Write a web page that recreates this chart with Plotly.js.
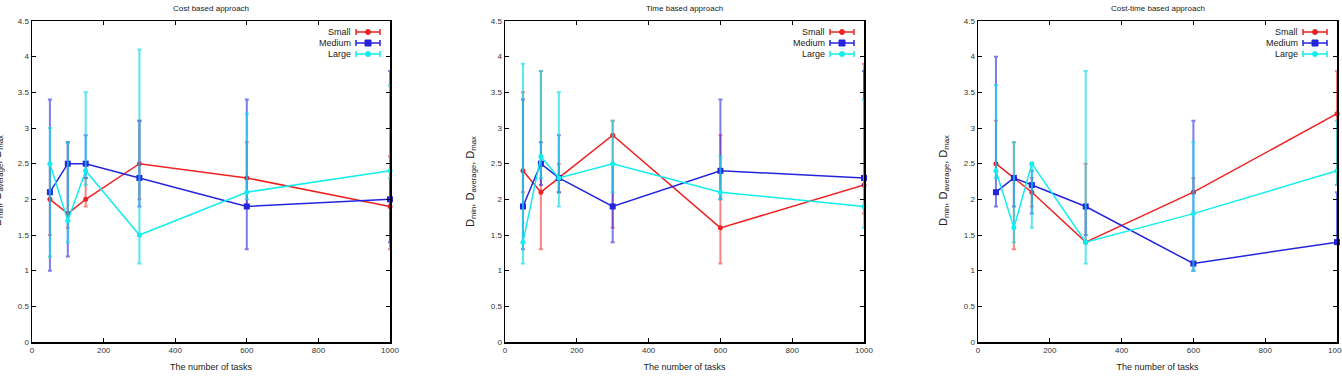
<!DOCTYPE html>
<html><head><meta charset="utf-8">
<script src="https://cdn.plot.ly/plotly-3.0.1.min.js"></script>
<style>html,body{margin:0;padding:0;background:#fff;}#chart{width:1342px;height:380px;}</style>
</head><body><div id="chart"></div>
<script>
const tasks = [50, 100, 150, 300, 600, 1000];
const seriesNames = ["Small", "Medium", "Large"];
const panelTitles = ["Cost based approach", "Time based approach", "Cost-time based approach"];
const yTitle = "D<sub>min</sub>, D<sub>average</sub>, D<sub>max</sub>";
const xTitle = "The number of tasks";

// Cost based approach
const costSmall = [2.0, 1.8, 2.0, 2.5, 2.3, 1.9];
const costSmallMin = [1.5, 1.6, 1.9, 2.0, 1.9, 1.3];
const costSmallMax = [2.5, 2.8, 2.3, 3.1, 2.8, 2.6];
const costMedium = [2.1, 2.5, 2.5, 2.3, 1.9, 2.0];
const costMediumMin = [1.0, 1.2, 2.3, 1.9, 1.3, 1.4];
const costMediumMax = [3.4, 2.8, 2.9, 3.1, 3.4, 3.8];
const costLarge = [2.5, 1.7, 2.4, 1.5, 2.1, 2.4];
const costLargeMin = [1.2, 1.4, 2.2, 1.1, 2.0, 2.3];
const costLargeMax = [3.0, 2.8, 3.5, 4.1, 3.2, 3.6];

// Time based approach
const timeSmall = [2.4, 2.1, 2.3, 2.9, 1.6, 2.2];
const timeSmallMin = [2.1, 1.3, 2.1, 1.6, 1.1, 1.8];
const timeSmallMax = [3.5, 3.8, 2.5, 3.1, 2.9, 3.9];
const timeMedium = [1.9, 2.5, 2.3, 1.9, 2.4, 2.3];
const timeMediumMin = [1.3, 2.2, 2.1, 1.4, 2.0, 2.2];
const timeMediumMax = [3.4, 2.8, 2.9, 2.5, 3.4, 3.8];
const timeLarge = [1.4, 2.6, 2.3, 2.5, 2.1, 1.9];
const timeLargeMin = [1.1, 2.3, 1.9, 2.1, 2.0, 1.6];
const timeLargeMax = [3.9, 3.8, 3.5, 3.1, 2.6, 3.4];

// Cost-time based approach
const ctSmall = [2.5, 2.3, 2.1, 1.4, 2.1, 3.2];
const ctSmallMin = [2.4, 1.3, 1.9, 1.4, 2.1, 2.2];
const ctSmallMax = [3.1, 2.8, 2.3, 2.5, 2.3, 3.8];
const ctMedium = [2.1, 2.3, 2.2, 1.9, 1.1, 1.4];
const ctMediumMin = [1.9, 1.9, 1.8, 1.5, 1.0, 1.4];
const ctMediumMax = [4.0, 2.3, 2.4, 1.9, 3.1, 2.1];
const ctLarge = [2.4, 1.6, 2.5, 1.4, 1.8, 2.4];
const ctLargeMin = [2.3, 1.4, 1.6, 1.1, 1.0, 2.2];
const ctLargeMax = [3.6, 2.8, 2.5, 3.8, 2.8, 3.1];

const panels = [
  [[costSmall, costSmallMin, costSmallMax], [costMedium, costMediumMin, costMediumMax], [costLarge, costLargeMin, costLargeMax]],
  [[timeSmall, timeSmallMin, timeSmallMax], [timeMedium, timeMediumMin, timeMediumMax], [timeLarge, timeLargeMin, timeLargeMax]],
  [[ctSmall, ctSmallMin, ctSmallMax], [ctMedium, ctMediumMin, ctMediumMax], [ctLarge, ctLargeMin, ctLargeMax]]
];

const lineColors = ["#ee2222", "#2424dd", "#11eeee"];
const errColors = ["rgba(238,34,34,0.55)", "rgba(36,36,221,0.6)", "rgba(17,220,235,0.7)"];
const symbols = ["circle", "square", "circle"];
const msizes = [5, 6, 5];

const W = 1342, H = 380, MT = 21, MB = 38;
const PH = H - MT - MB;
const pxDomains = [[32, 390], [505, 864], [978, 1337]];
const domains = pxDomains.map(d => [d[0] / W, d[1] / W]);
const font = "Liberation Sans, Arial, sans-serif";

const traces = [];
panels.forEach((panel, p) => {
  panel.forEach((s, i) => {
    const [y, mn, mx] = s;
    traces.push({
      x: tasks, y: y, name: seriesNames[i], type: "scatter", mode: "lines+markers",
      xaxis: p === 0 ? "x" : "x" + (p + 1), yaxis: p === 0 ? "y" : "y" + (p + 1),
      showlegend: false, cliponaxis: false,
      line: {color: lineColors[i], width: 1.5},
      marker: {color: lineColors[i], symbol: symbols[i], size: msizes[i]},
      error_y: {type: "data", symmetric: false,
        array: mx.map((v, k) => Math.max(0, v - y[k])),
        arrayminus: mn.map((v, k) => Math.max(0, y[k] - v)),
        color: errColors[i], thickness: 2, width: 2}
    });
  });
});

const layout = {
  width: W, height: H, showlegend: false,
  paper_bgcolor: "#fff", plot_bgcolor: "#fff",
  margin: {l: 0, r: 0, t: MT, b: MB},
  font: {family: font, size: 9, color: "#222"},
  annotations: [], shapes: []
};
const px = v => v / W;
const py = v => (H - MB - v) / PH;
for (let p = 0; p < 3; p++) {
  const sfx = p === 0 ? "" : String(p + 1);
  layout["xaxis" + sfx] = {
    domain: domains[p], anchor: "y" + sfx, range: [0, 1000], tickvals: [0, 200, 400, 600, 800, 1000],
    ticks: "inside", ticklen: 4, tickcolor: "#000", mirror: "allticks", showline: true, linecolor: "#000", linewidth: 1.5,
    showgrid: false, zeroline: false, tickfont: {size: 8, family: font, color: "#333"}, ticklabeloverflow: "allow",
    title: {text: xTitle, font: {size: 9, family: font, color: "#222"}, standoff: 9}, automargin: false
  };
  layout["yaxis" + sfx] = {
    domain: [0, 1], anchor: "x" + sfx, range: [0, 4.5], tickvals: [0, 0.5, 1, 1.5, 2, 2.5, 3, 3.5, 4, 4.5],
    ticktext: ["0", "0.5", "1", "1.5", "2", "2.5", "3", "3.5", "4", "4.5"],
    ticks: "inside", ticklen: 4, tickcolor: "#000", mirror: "allticks", showline: true, linecolor: "#000", linewidth: 1.5,
    showgrid: false, zeroline: false, tickfont: {size: 8, family: font, color: "#333"},
    automargin: false
  };
  // y axis title as rotated annotation (so the first one can sit partly off the page, as in the original)
  layout.annotations.push({
    text: yTitle, x: px(pxDomains[p][0] - 34), y: py(181), xref: "paper", yref: "paper",
    xanchor: "center", yanchor: "middle", textangle: -90, showarrow: false,
    font: {size: 11, family: font, color: "#222"}
  });
  layout.annotations.push({
    text: panelTitles[p], x: (domains[p][0] + domains[p][1]) / 2, y: 1, xref: "paper", yref: "paper",
    xanchor: "center", yanchor: "bottom", yshift: 6, showarrow: false, font: {size: 8, family: font, color: "#222"}
  });
  // legend keys (gnuplot-style: text then sample on the right)
  const right = pxDomains[p][1];
  for (let i = 0; i < 3; i++) {
    const yk = 32 + 11 * i;
    layout.annotations.push({
      text: seriesNames[i], x: px(right - 37), y: py(yk), xref: "paper", yref: "paper",
      xanchor: "right", yanchor: "middle", showarrow: false, font: {size: 9, family: font, color: "#222"}
    });
    const x0 = right - 34, x1 = right - 10, xm = (x0 + x1) / 2;
    layout.shapes.push({type: "line", xref: "paper", yref: "paper", x0: px(x0), x1: px(x1), y0: py(yk), y1: py(yk), line: {color: lineColors[i], width: 1.5}});
    layout.shapes.push({type: "line", xref: "paper", yref: "paper", x0: px(x0), x1: px(x0), y0: py(yk - 3), y1: py(yk + 3), line: {color: lineColors[i], width: 1.5}});
    layout.shapes.push({type: "line", xref: "paper", yref: "paper", x0: px(x1), x1: px(x1), y0: py(yk - 3), y1: py(yk + 3), line: {color: lineColors[i], width: 1.5}});
    const r = i === 1 ? 3 : 2.5;
    layout.shapes.push({type: i === 1 ? "rect" : "circle", xref: "paper", yref: "paper",
      x0: px(xm - r), x1: px(xm + r), y0: py(yk - r), y1: py(yk + r),
      fillcolor: lineColors[i], line: {color: lineColors[i], width: 1}});
  }
}
Plotly.newPlot("chart", traces, layout, {staticPlot: true});
</script></body></html>
